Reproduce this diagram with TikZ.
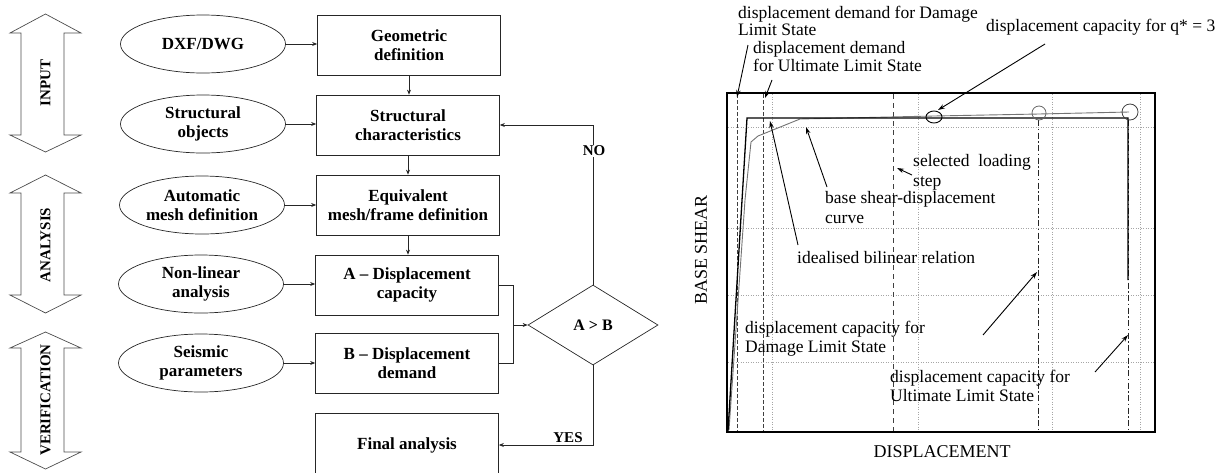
\documentclass[tikz,border=0pt]{standalone}
\usepackage{fontspec}
\setmainfont{Liberation Serif}
\usetikzlibrary{shapes.geometric,arrows.meta}
\begin{document}
\begin{tikzpicture}[x=1pt,y=-1pt,
  flow/.style={draw=black!85,line width=0.7pt},
  ell/.style={flow,ellipse,minimum width=165pt,minimum height=58pt,inner sep=0pt},
  boxnode/.style={flow,rectangle,minimum width=183pt,minimum height=60pt,inner sep=0pt,align=center,font=\fontsize{17}{19.5}\selectfont\bfseries},
  lbl/.style={align=center,inner sep=0pt,font=\fontsize{17}{19.5}\selectfont\bfseries},
  conn/.style={draw=black!85,line width=0.7pt,-{Stealth[length=5pt,width=4pt]}},
  plain/.style={draw=black!85,line width=0.7pt},
  blk/.style={draw=black!70,line width=0.7pt},
  side/.style={rotate=90,inner sep=0pt,font=\fontsize{15}{15}\selectfont\bfseries},
  ctxt/.style={anchor=north west,inner sep=0pt,align=left,font=\fontsize{17.5}{20}\selectfont},
  carr/.style={draw=black,line width=0.9pt,-{Stealth[length=7pt,width=4.5pt]}},
  grid/.style={draw=black!35,line width=0.5pt,dotted},
  vdash/.style={draw=black!75,line width=0.7pt,dash pattern=on 4pt off 2pt},
  vdashdot/.style={draw=black!85,line width=0.7pt,dash pattern=on 6pt off 2.5pt on 1.5pt off 2.5pt},
]
\useasboundingbox (0,0) rectangle (1231,472);
\clip (0,0) rectangle (1231,472);

% ---------- side block arrows ----------
\draw[blk] (45.5,14) -- (81,33) -- (64,33) -- (64,135) -- (81,135) -- (45.5,152) -- (10,135) -- (21,135) -- (21,33) -- (10,33) -- cycle;
\draw[blk] (45.5,175) -- (81,193) -- (64,193) -- (64,295) -- (81,295) -- (45.5,313) -- (10,295) -- (21,295) -- (21,193) -- (10,193) -- cycle;
\draw[blk] (45.5,332) -- (81,348) -- (64,348) -- (64,452) -- (81,452) -- (45.5,469) -- (10,452) -- (21,452) -- (21,348) -- (10,348) -- cycle;
\node[side] (t1) at (45.5,83) {INPUT};
\node[side] (t2) at (45.5,245) {ANALYSIS};
\node[side] (t3) at (45.5,400) {VERIFICATION};

% ---------- ellipses ----------
\node[ell] (e1) at (203,44) {};
\node[ell] (e2) at (203,124) {};
\node[ell] (e3) at (202,205) {};
\node[ell] (e4) at (201,284) {};
\node[ell] (e5) at (201,363) {};
\node[lbl] (le1) at (e1) {DXF/DWG};
\node[lbl] (le2) at (e2) {Structural\\objects};
\node[lbl] (le3) at (e3) {Automatic\\mesh definition};
\node[lbl] (le4) at (e4) {Non-linear\\analysis};
\node[lbl] (le5) at (e5) {Seismic\\parameters};

% ---------- boxes ----------
\node[boxnode] (b1) at (409,45) {Geometric\\definition};
\node[boxnode] (b2) at (408,125) {Structural\\characteristics};
\node[boxnode] (b3) at (408,205) {Equivalent\\mesh/frame definition};
\node[boxnode] (b4) at (407,285) {A -- Displacement\\capacity};
\node[boxnode] (b5) at (407,363) {B -- Displacement\\demand};
\node[boxnode,minimum height=64pt] (b6) at (407,445) {Final analysis};

\foreach \i in {1,...,5}{
  \draw[conn] (e\i.east) -- (e\i.east -| b\i.west);
}
\draw[conn] (b1.south) -- (b1.south |- b2.north);
\draw[conn] (b2.south) -- (b2.south |- b3.north);
\draw[conn] (b3.south) -- (b3.south |- b4.north);

% ---------- decision ----------
\node[flow,diamond,minimum width=130pt,minimum height=80pt,inner sep=0pt,font=\fontsize{16}{16}\selectfont\bfseries] (d) at (593,325) {A > B};
\coordinate (br) at (513,325);
\draw[plain] (b4.east) -- (b4.east -| br) -- (b5.east -| br) -- (b5.east);
\draw[conn] (br) -- (d.west);
\draw[conn] (d.north) |- (b2.east);
\draw[conn] (d.south) |- (b6.east);
\node[fill=white,inner sep=1pt,font=\fontsize{15}{15}\selectfont\bfseries] (no) at (594,151) {NO};
\node[anchor=south,inner sep=1.5pt,font=\fontsize{15}{15}\selectfont\bfseries] (yes) at (568,444) {YES};

% ---------- chart ----------
% faint grid
\draw[grid] (728,127) -- (1154,127);
\draw[grid] (728,228) -- (1154,228);
\draw[grid] (728,295) -- (1154,295);
\draw[grid] (728,362) -- (1154,362);
\draw[grid] (772,94) -- (772,431);
\draw[grid] (918,94) -- (918,431);
\draw[grid] (1052,94) -- (1052,431);
\draw[grid] (1140,94) -- (1140,431);

% vertical reference lines
\draw[vdash] (737,94) -- (737,431);
\draw[vdash] (763,94) -- (763,431);
\draw[vdash,dash pattern=on 5pt off 4pt] (893,94) -- (893,431);
\draw[vdashdot] (1038,120) -- (1038,431);
\draw[vdashdot] (1128,120) -- (1128,431);

% capacity curve
\draw[black!55,line width=0.9pt] (729,430) -- (745,200) -- (751,142) -- (758,136) -- (800,119) -- (934,116) -- (1039,114) -- (1129,112);
% idealised bilinear
\draw[black,line width=1.3pt] (728,431) -- (747,118) -- (1128,118) -- (1128,280);

% circles
\draw[black,line width=0.9pt] (934,117) ellipse [x radius=8,y radius=6];
\draw[black!60,line width=0.8pt] (1039,113) circle [radius=7];
\draw[black!75,line width=0.8pt] (1130,112) circle [radius=8];

% frame
\draw[black,line width=1.1pt] (727,93) rectangle (1155,432);

% labels
\node[ctxt,font=\fontsize{17.5}{17.5}\selectfont] (l1) at (738,5.9) {displacement demand for Damage\\Limit State};
\node[ctxt,font=\fontsize{17.5}{18.5}\selectfont] (l2) at (753,41) {displacement demand\\for Ultimate Limit State};
\node[ctxt] (l3) at (986,19) {displacement capacity for q* = 3};
\node[ctxt] (l4) at (913,154) {selected\ \ loading\\step};
\node[ctxt] (l5) at (825,191) {base shear-displacement\\curve};
\node[ctxt] (l6) at (797,251) {idealised bilinear relation};
\node[ctxt,font=\fontsize{17.5}{19}\selectfont] (l7) at (745,321) {displacement capacity for\\Damage Limit State};
\node[ctxt,font=\fontsize{17.5}{18.5}\selectfont] (l8) at (890,370) {displacement capacity for\\Ultimate Limit State};
\node[inner sep=0pt,font=\fontsize{18}{18}\selectfont] (xl) at (942,452) {DISPLACEMENT};
\node[inner sep=0pt,rotate=90,font=\fontsize{18}{18}\selectfont] (yl) at (701,250) {BASE SHEAR};

% annotation arrows
\coordinate (s1) at (748,45);  \coordinate (p1) at (737,97);
\coordinate (s2) at (772,80);  \coordinate (p2) at (765,98);
\coordinate (s3) at (1045,44); \coordinate (p3) at (938,110);
\coordinate (s4) at (827,187); \coordinate (p4) at (806,127);
\coordinate (s5) at (798,245); \coordinate (p5) at (770,121);
\coordinate (s6) at (912,175); \coordinate (p6) at (897,168);
\coordinate (s7) at (983,335); \coordinate (p7) at (1037,272);
\coordinate (s8) at (1095,372);\coordinate (p8) at (1128,335);
\foreach \k in {1,...,8}{ \draw[carr] (s\k) -- (p\k); }
\end{tikzpicture}
\end{document}
